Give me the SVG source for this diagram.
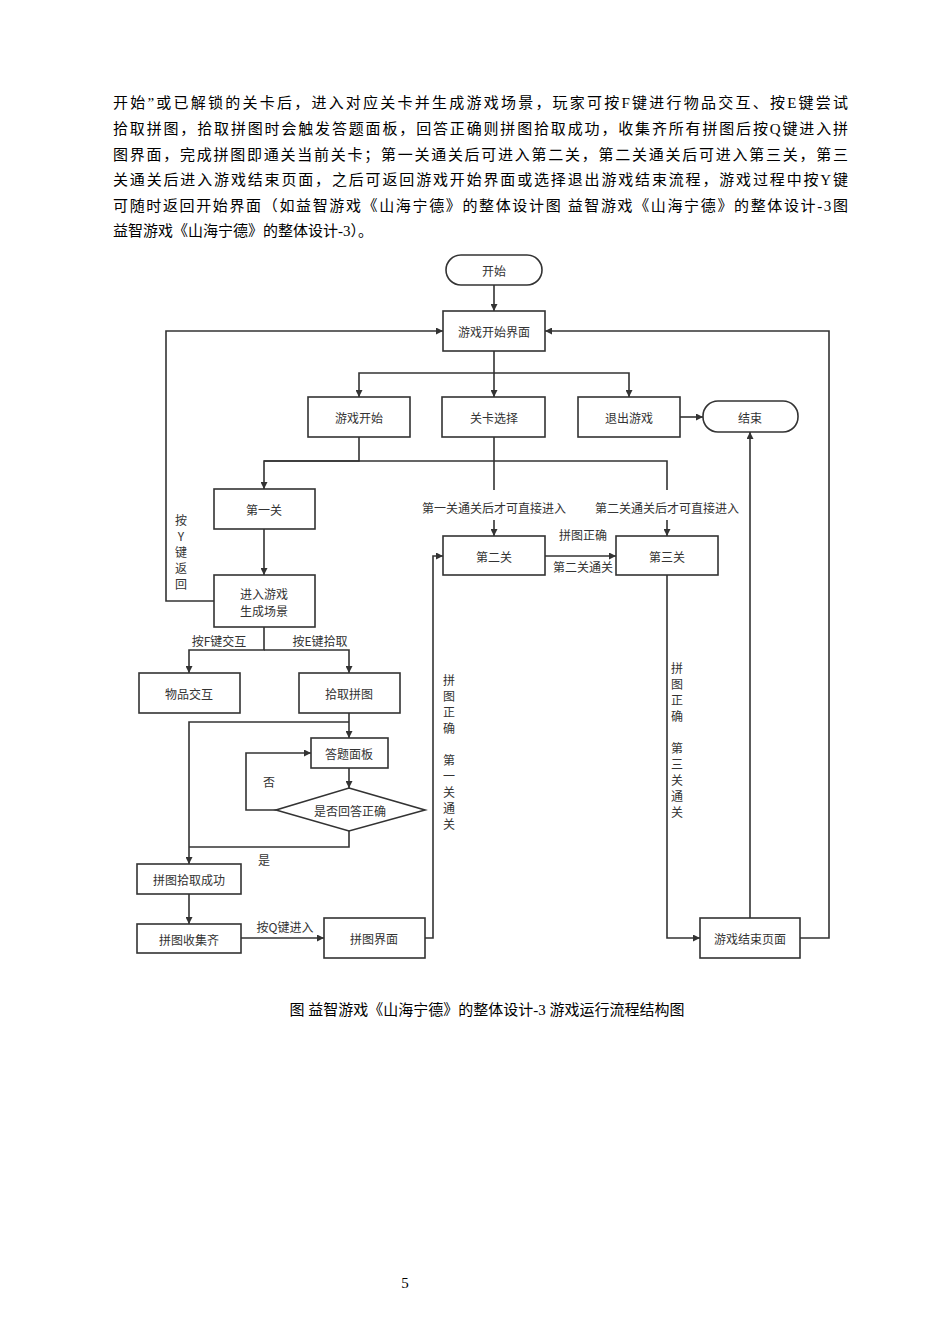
<svg xmlns="http://www.w3.org/2000/svg" width="950" height="1344" viewBox="0 0 950 1344">
<style>
.b{font-family:"Liberation Serif","Noto Sans CJK SC",serif;font-size:15px;fill:#000}
.n rect,.n path{fill:#fff;stroke:#333;stroke-width:1.6}
.t{font-family:"Noto Sans CJK SC",sans-serif;font-size:12px;fill:#333;text-anchor:middle;dominant-baseline:central}
.l{font-family:"Noto Sans CJK SC",sans-serif;font-size:12px;fill:#333;text-anchor:middle}
#c path{fill:none;stroke:#333;stroke-width:1.6}
</style>
<defs><marker id="a" viewBox="0 0 10 10" refX="10" refY="5" markerWidth="7" markerHeight="7" orient="auto" markerUnits="userSpaceOnUse"><path d="M0,0L10,5L0,10z" fill="#333"/></marker></defs>
<rect width="950" height="1344" fill="#fff"/>
<g class="b">
<text x="113" y="108" textLength="735">开始”或已解锁的关卡后，进入对应关卡并生成游戏场景，玩家可按F键进行物品交互、按E键尝试</text>
<text x="113" y="134" textLength="735">拾取拼图，拾取拼图时会触发答题面板，回答正确则拼图拾取成功，收集齐所有拼图后按Q键进入拼</text>
<text x="113" y="160" textLength="735">图界面，完成拼图即通关当前关卡；第一关通关后可进入第二关，第二关通关后可进入第三关，第三</text>
<text x="113" y="185" textLength="735">关通关后进入游戏结束页面，之后可返回游戏开始界面或选择退出游戏结束流程，游戏过程中按Y键</text>
<text x="113" y="211" textLength="735">可随时返回开始界面（如益智游戏《山海宁德》的整体设计图 益智游戏《山海宁德》的整体设计-3图</text>
<text x="113" y="236">益智游戏《山海宁德》的整体设计-3）。</text>
<text x="487" y="1015" text-anchor="middle">图 益智游戏《山海宁德》的整体设计-3 游戏运行流程结构图</text>
<text x="405" y="1288" text-anchor="middle">5</text>
</g>
<g id="c" marker-end="url(#a)">
<path d="M494,285V311"/>
<path d="M494,351V373H359V397"/><path d="M494,373V397"/><path d="M494,373H629V397"/>
<path d="M680,417H703"/>
<path d="M359,437V461H264V489"/><path d="M264,461H667V490" marker-end="none"/>
<path d="M494,437V490" marker-end="none"/>
<path d="M494,520V536"/><path d="M667,520V536"/>
<path d="M545,556H616"/>
<path d="M264,529V575"/>
<path d="M214,601H166V331H443"/>
<path d="M264,627V650H189V673"/><path d="M264,650H349V673"/>
<path d="M349,713V738"/><path d="M349,722H189V864"/>
<path d="M349,768V788"/>
<path d="M276,810H246V753H311"/>
<path d="M349,831V847H189" marker-end="none"/>
<path d="M189,894V924"/>
<path d="M241,938H324"/>
<path d="M425,938H433V556H443"/>
<path d="M667,575V938H700"/>
<path d="M750,918V432"/>
<path d="M800,938H829V331H545"/>
</g>
<g id="labels" class="l">
<text x="494" y="513">第一关通关后才可直接进入</text>
<text x="667" y="513">第二关通关后才可直接进入</text>
<text x="583" y="540">拼图正确</text>
<text x="583" y="572">第二关通关</text>
<text x="219" y="646">按F键交互</text>
<text x="320" y="646">按E键拾取</text>
<text x="269" y="787">否</text>
<text x="264" y="865">是</text>
<text x="285" y="932">按Q键进入</text>
<text x="181" y="525">按</text><text x="181" y="541">Y</text><text x="181" y="557">键</text><text x="181" y="573">返</text><text x="181" y="589">回</text>
<text x="449" y="685">拼</text><text x="449" y="701">图</text><text x="449" y="717">正</text><text x="449" y="733">确</text><text x="449" y="765">第</text><text x="449" y="781">一</text><text x="449" y="797">关</text><text x="449" y="813">通</text><text x="449" y="829">关</text>
<text x="677" y="673">拼</text><text x="677" y="689">图</text><text x="677" y="705">正</text><text x="677" y="721">确</text><text x="677" y="753">第</text><text x="677" y="769">三</text><text x="677" y="785">关</text><text x="677" y="801">通</text><text x="677" y="817">关</text>
</g>
<g id="start" class="n"><rect x="446" y="255" width="96" height="30" rx="15"/><text class="t" x="494" y="270">开始</text></g>
<g id="menu" class="n"><rect x="443" y="311" width="102" height="40"/><text class="t" x="494" y="331">游戏开始界面</text></g>
<g id="play" class="n"><rect x="308" y="397" width="102" height="40"/><text class="t" x="359" y="417">游戏开始</text></g>
<g id="select" class="n"><rect x="442" y="397" width="103" height="40"/><text class="t" x="494" y="417">关卡选择</text></g>
<g id="quit" class="n"><rect x="578" y="397" width="102" height="40"/><text class="t" x="629" y="417">退出游戏</text></g>
<g id="end" class="n"><rect x="703" y="401" width="95" height="31" rx="15"/><text class="t" x="750" y="417">结束</text></g>
<g id="l1" class="n"><rect x="214" y="489" width="101" height="40"/><text class="t" x="264" y="509">第一关</text></g>
<g id="l2" class="n"><rect x="443" y="536" width="102" height="39"/><text class="t" x="494" y="556">第二关</text></g>
<g id="l3" class="n"><rect x="616" y="536" width="102" height="39"/><text class="t" x="667" y="556">第三关</text></g>
<g id="scene" class="n"><rect x="214" y="575" width="101" height="52"/><text class="t" x="264" y="593">进入游戏</text><text class="t" x="264" y="610">生成场景</text></g>
<g id="item" class="n"><rect x="139" y="673" width="101" height="40"/><text class="t" x="189" y="693">物品交互</text></g>
<g id="pick" class="n"><rect x="299" y="673" width="101" height="40"/><text class="t" x="349" y="693">拾取拼图</text></g>
<g id="quiz" class="n"><rect x="311" y="738" width="77" height="30"/><text class="t" x="349" y="753">答题面板</text></g>
<g id="dec" class="n"><path d="M349,788L425,810L349,831L276,810Z"/><text class="t" x="350" y="810">是否回答正确</text></g>
<g id="ok" class="n"><rect x="137" y="864" width="104" height="30"/><text class="t" x="189" y="879">拼图拾取成功</text></g>
<g id="all" class="n"><rect x="137" y="924" width="104" height="29"/><text class="t" x="189" y="939">拼图收集齐</text></g>
<g id="puzzle" class="n"><rect x="324" y="918" width="101" height="40"/><text class="t" x="374" y="938">拼图界面</text></g>
<g id="over" class="n"><rect x="700" y="918" width="100" height="40"/><text class="t" x="750" y="938">游戏结束页面</text></g>
</svg>
